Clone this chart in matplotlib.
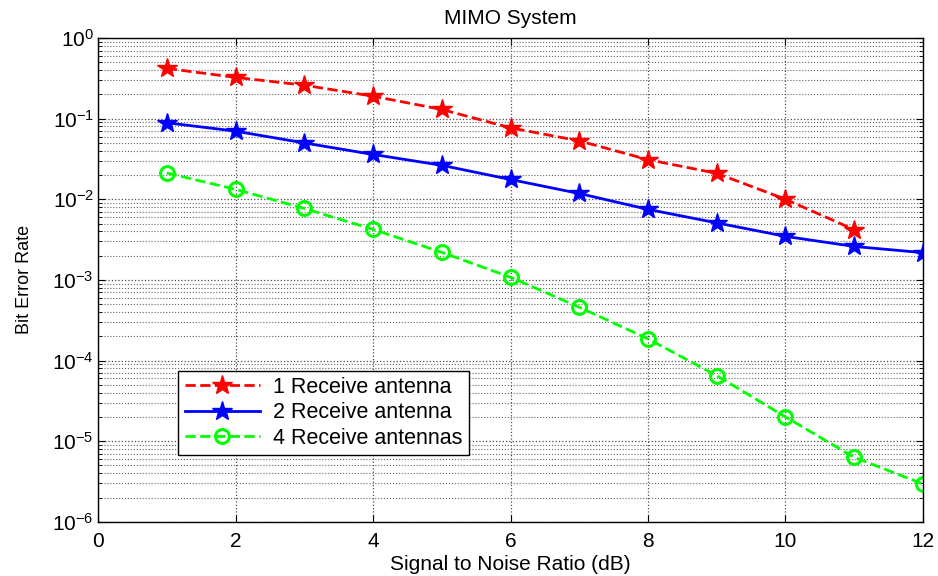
import numpy as np
import matplotlib
matplotlib.use('Agg')
import matplotlib.pyplot as plt
import matplotlib.ticker as mticker

plt.rcParams.update({
    'font.family': 'sans-serif',
    'font.sans-serif': ['Liberation Sans', 'DejaVu Sans'],
    'mathtext.default': 'regular',
})

# ===================== DATA =====================
snr = [1, 2, 3, 4, 5, 6, 7, 8, 9, 10, 11, 12]
ber_1rx = [0.42, 0.325, 0.26, 0.19, 0.13, 0.077, 0.053, 0.031, 0.021, 0.010, 0.0042]
ber_2rx = [0.089, 0.070, 0.050, 0.036, 0.0264, 0.0176, 0.0118, 0.0075, 0.0051,
           0.00347, 0.0026, 0.00218]
ber_4rx = [0.0212, 0.0133, 0.0077, 0.00424, 0.0022, 0.00108, 0.000459, 0.000186,
           6.5e-5, 2.0e-5, 6.3e-6, 2.95e-6]
labels = ['1 Receive antenna', '2 Receive antenna', '4 Receive antennas']

# ===================== PLOT =====================
fig = plt.figure(figsize=(9.38, 5.76), dpi=100)
ax = fig.add_axes([0.1045, 0.094, 0.8795, 0.840])

ax.semilogy(snr[:len(ber_1rx)], ber_1rx, 'r--', marker='*', markersize=15,
            lw=2, label=labels[0])
ax.semilogy(snr, ber_2rx, 'b-', marker='*', markersize=15, lw=2, label=labels[1])
ax.semilogy(snr, ber_4rx, '--', color=(0, 1, 0), marker='o', markersize=10,
            markerfacecolor='none', markeredgewidth=2.2, lw=2, label=labels[2])

ax.set_xlim(0, 12)
ax.set_ylim(1e-6, 1)
ax.set_xticks(range(0, 13, 2))
ax.yaxis.set_major_locator(mticker.LogLocator(base=10, numticks=10))
ax.yaxis.set_minor_locator(mticker.LogLocator(base=10, subs=np.arange(2, 10), numticks=20))
ax.yaxis.set_minor_formatter(mticker.NullFormatter())
ax.xaxis.get_offset_text().set_visible(False)
ax.yaxis.get_offset_text().set_visible(False)

ax.grid(True, which='major', axis='both', color='0.3', linestyle=':', lw=0.9)
ax.grid(True, which='minor', axis='y', color='0.4', linestyle=':', lw=0.8)
ax.tick_params(which='both', direction='in', top=True, right=True, labelsize=15)
ax.tick_params(which='major', length=5)
ax.tick_params(which='minor', length=3)
ax.tick_params(axis='x', pad=7)
ax.tick_params(axis='y', pad=3)
for s in ax.spines.values():
    s.set_linewidth(1.0)

ax.set_title('MIMO System', fontsize=15, pad=10)
ax.set_xlabel('Signal to Noise Ratio (dB)', fontsize=15, labelpad=3)
ax.set_ylabel('Bit Error Rate', fontsize=13, labelpad=14)

leg = ax.legend(loc='lower left', bbox_to_anchor=(0.097, 0.138), fontsize=15.5,
                handlelength=3.5, handletextpad=0.6, labelspacing=0.2,
                borderpad=0.3, fancybox=False, framealpha=1, edgecolor='black',
                borderaxespad=0)
leg.get_frame().set_linewidth(1.0)

fig.savefig('out.png', dpi=100)
plt.close(fig)
